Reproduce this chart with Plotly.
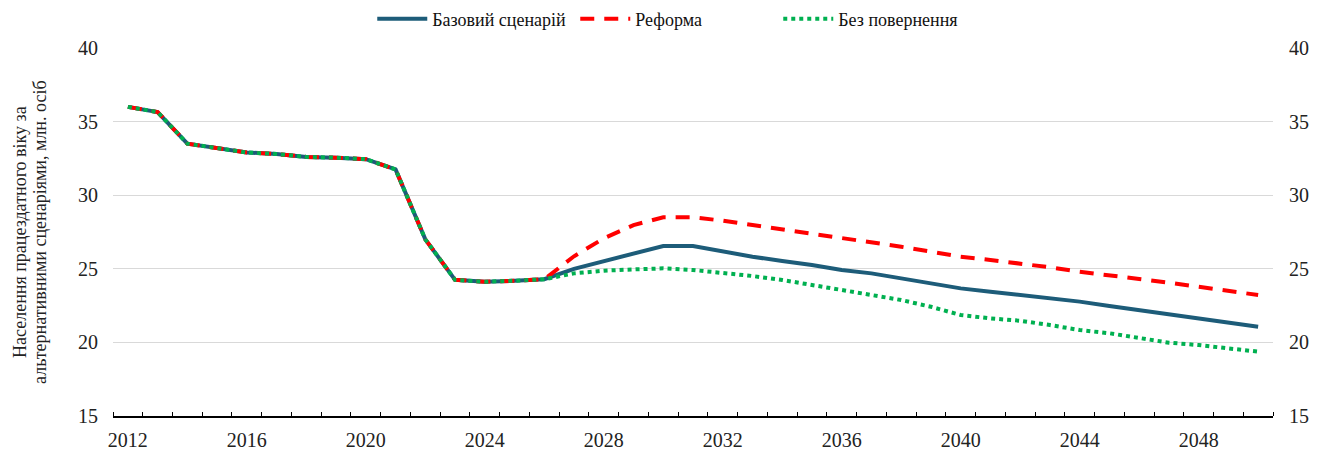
import plotly.graph_objects as go

# data
years = list(range(2012, 2051))

common = [36.0, 35.65, 33.5, 33.2, 32.9, 32.8, 32.6, 32.55, 32.45, 31.75,
          27.0, 24.25, 24.12, 24.19, 24.29]

base = common + [25.0, 25.5, 26.05, 26.55, 26.55, 26.16, 25.82, 25.53, 25.26, 24.92,
                 24.69, 24.35, 24.01, 23.67, 23.44, 23.22, 22.95, 22.77, 22.47, 22.2,
                 21.93, 21.63, 21.34, 21.07]
reform = common + [25.85, 27.07, 27.97, 28.5, 28.5, 28.27, 27.97, 27.68, 27.41, 27.07,
                   26.84, 26.5, 26.16, 25.82, 25.6, 25.37, 25.1, 24.8, 24.58, 24.31,
                   24.06, 23.78, 23.51, 23.22]
no_return = common + [24.69, 24.87, 24.96, 25.03, 24.92, 24.74, 24.51, 24.24, 23.9, 23.56,
                      23.22, 22.88, 22.42, 21.86, 21.63, 21.47, 21.18, 20.84, 20.62, 20.28,
                      19.98, 19.82, 19.6, 19.37]

x_labels = list(range(2012, 2050, 4))
y_ticks = [15, 20, 25, 30, 35, 40]

title_lines = ["Населення працездатного віку за",
               "альтернативними сценаріями, млн. осіб"]

font = "Liberation Serif, Times New Roman, serif"

fig = go.Figure()

fig.add_trace(go.Scatter(x=years, y=base, mode="lines", name="Базовий сценарій",
                         line=dict(color="#1d5c79", width=4)))
fig.add_trace(go.Scatter(x=years, y=reform, mode="lines", name="Реформа",
                         line=dict(color="#ff0000", width=4, dash="14px,10px")))
fig.add_trace(go.Scatter(x=years, y=no_return, mode="lines", name="Без повернення",
                         line=dict(color="#00b050", width=4, dash="dot")))
# invisible copy so the right axis is drawn
fig.add_trace(go.Scatter(x=years, y=base, yaxis="y2", mode="lines", showlegend=False,
                         hoverinfo="skip", line=dict(width=0), opacity=0))

# page body has an 8px margin, so the figure is a bit smaller than the window
fig.update_layout(
    width=1323, height=444,
    margin=dict(l=105, r=58, t=40, b=36, autoexpand=False),
    plot_bgcolor="white", paper_bgcolor="white",
    font=dict(family=font, size=20, color="#222222"),
    legend=dict(orientation="h", x=0.486, xanchor="center",
                y=1.079, yanchor="middle", entrywidth=138,
                font=dict(size=18, color="#111111"), itemwidth=50,
                bgcolor="rgba(0,0,0,0)"),
    xaxis=dict(
        range=[2011.5, 2050.5], tickvals=x_labels, ticks="", showgrid=False,
        showline=True, linecolor="black", linewidth=1.5, zeroline=False,
        ticklabelstandoff=5,
        minor=dict(tick0=2011.5, dtick=1, ticks="inside", ticklen=4,
                   tickcolor="black", showgrid=False),
    ),
    yaxis=dict(
        range=[15, 40], tickvals=y_ticks, showgrid=True, gridcolor="#d9d9d9",
        gridwidth=1, zeroline=False, showline=False, ticks="",
        ticklabelstandoff=14,
    ),
    yaxis2=dict(
        range=[15, 40], tickvals=y_ticks, overlaying="y", side="right",
        showgrid=False, zeroline=False, showline=False, ticks="",
        ticklabelstandoff=15,
    ),
)

for line, shift in zip(title_lines, [-93, -73]):
    fig.add_annotation(
        text=line, xref="paper", yref="paper", x=0, y=0.5,
        xanchor="center", yanchor="middle", xshift=shift, textangle=-90,
        showarrow=False, font=dict(family=font, size=18, color="#222222"),
    )

fig.write_html("out.html")
